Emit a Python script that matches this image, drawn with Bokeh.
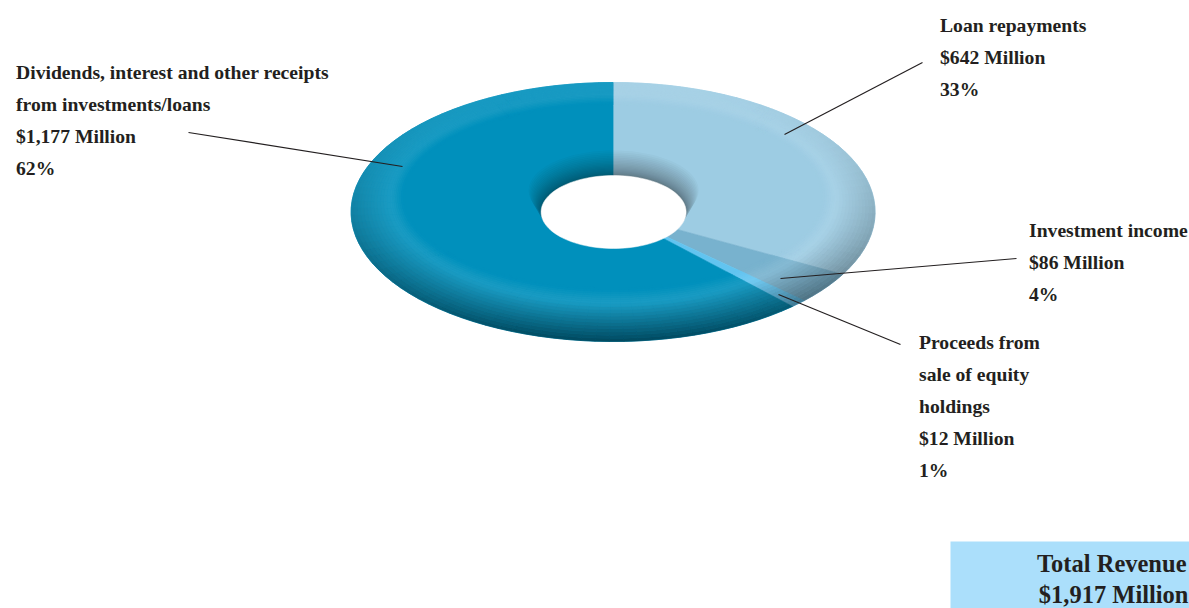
import numpy as np
from bokeh.plotting import figure
from bokeh.models import Range1d
from bokeh.core.properties import value
from bokeh.embed import file_html
from bokeh.resources import INLINE

categories = ["Loan repayments", "Investment income", "Proceeds from sale of equity holdings",
              "Dividends, interest and other receipts from investments/loans"]
millions = [642, 86, 12, 1177]
percents = [33, 4, 1, 62]
slice_colors = [(157, 204, 227), (120, 178, 206), (98, 196, 240), (0, 144, 188)]

W, H = 1189, 608
p = figure(width=W, height=H, output_backend="svg", toolbar_location=None,
           x_range=Range1d(0, W), y_range=Range1d(H, 0),
           min_border=0, min_border_left=0, min_border_right=0, min_border_top=0, min_border_bottom=0)
p.axis.visible = False
p.grid.visible = False
p.outline_line_color = None
p.background_fill_color = "white"
p.border_fill_color = "white"

CX, CY, RX, RY = 612.6, 211.5, 262.0, 129.5
HX, HY = 72.5, 36.5


def hexc(c):
    return "#%02x%02x%02x" % tuple(int(round(min(255, max(0, v)))) for v in c)


def ray_hit(theta, ecy, erx, ery):
    """Distance along the pie ray (unit = outer ellipse) that meets an offset ellipse."""
    a, b = RX * np.sin(theta), -RY * np.cos(theta)
    d = CY - ecy
    A = (a / erx) ** 2 + (b / ery) ** 2
    B = 2 * b * d / ery ** 2
    C = (d / ery) ** 2 - 1
    return (-B + np.sqrt(B * B - 4 * A * C)) / (2 * A)


def pt(theta, s):
    return CX + RX * s * np.sin(theta), CY - RY * s * np.cos(theta)


cum = np.concatenate([[0], np.cumsum(percents)]) / sum(percents) * 2 * np.pi
xs, ys, cols = [], [], []
for i, base in enumerate(slice_colors):
    a0, a1 = cum[i], cum[i + 1]
    th = np.linspace(a0, a1, max(3, int((a1 - a0) / 0.02)))
    ox, oy = pt(th, 1.0)
    xs.append(list(ox) + [CX])
    ys.append(list(oy) + [CY])
    cols.append(hexc(base))


def s_at(t, kind, u):
    sr = ray_hit(t, 198.0, 223.0, 105.0)
    sf = ray_hit(t, 196.0, 208.0, 91.0)
    return 1 + (sr - 1) * u if kind == "o" else sr + (sf - sr) * u


for i, base in enumerate(slice_colors):
    a0, a1 = cum[i], cum[i + 1]
    base = np.array(base, float)
    ring = base + (255 - base) * 0.10
    edges = np.linspace(a0, a1, max(2, int(round((a1 - a0) / 0.055))) + 1)
    for t0, t1 in zip(edges[:-1], edges[1:]):
        tm = (t0 + t1) / 2
        dark = ((1 - np.cos(tm)) / 2) ** 1.6
        edge = ring + (base * 0.50 - ring) * dark
        n_out, n_in = 12, 8
        stops = [("o", k / n_out, (k + 1) / n_out) for k in range(n_out)]
        stops += [("i", k / n_in, (k + 1) / n_in) for k in range(n_in)]
        for kind, u0, u1 in stops:
            um = (u0 + u1) / 2
            if kind == "o":
                c = edge + (ring - edge) * um
            else:
                c = ring + (base - ring) * (um * um * (3 - 2 * um))
            ax, ay = pt(t0, s_at(t0, kind, u0))
            bx, by = pt(t1, s_at(t1, kind, u0))
            cx_, cy_ = pt(t1, s_at(t1, kind, u1))
            dx, dy = pt(t0, s_at(t0, kind, u1))
            xs.append([ax, bx, cx_, dx])
            ys.append([ay, by, cy_, dy])
            cols.append(hexc(c))

p.patches(xs, ys, fill_color=cols, line_color=cols, line_width=0.6)

# soft shadow above the hole
tt = np.linspace(0, 2 * np.pi, 121)
N = 24
for k in range(N):
    u = 1 - (1 - k / (N - 1)) ** 1.8
    rx = 85 + (HX - 85) * u
    ry = 40 + (HY - 40) * u
    cy = 190 + (CY - 190) * u
    p.patch(CX + 0.5 + rx * np.cos(tt), cy + ry * np.sin(tt), fill_color="#202020",
            fill_alpha=0.027, line_color=None)

# hole
p.patch(CX + 0.5 + HX * np.cos(tt), CY + HY * np.sin(tt), fill_color="white", line_color="white", line_width=0.5)

# leader lines
leader_x = [[188, 402], [922, 784], [1016, 780], [900, 778]]
leader_y = [[132, 166], [62, 134], [258, 278], [344, 294]]
p.multi_line(leader_x, leader_y, line_color="#231f20", line_width=1.2)

label_blocks = [
    (15.5, 71.5, ["Dividends, interest and other receipts", "from investments/loans", "$1,177 Million", "62%"]),
    (939.5, 24.5, ["Loan repayments", "$642 Million", "33%"]),
    (1028.5, 229.5, ["Investment income", "$86 Million", "4%"]),
    (918.5, 341.5, ["Proceeds from", "sale of equity", "holdings", "$12 Million", "1%"]),
]
tx, ty, tl = [], [], []
for x0, y0, lines in label_blocks:
    for j, line in enumerate(lines):
        tx.append(x0)
        ty.append(y0 + 32 * j)
        tl.append(line)
p.text(tx, ty, text=tl, text_font=value("Liberation Serif"), text_font_style="bold",
       text_font_size="19.65px", text_color="#231f20", text_baseline="alphabetic", text_align="left")

# total box
p.quad(left=[950], right=[1195], top=[541], bottom=[615], fill_color="#abdffb", line_color=None)
p.text([1186, 1188], [563, 593.5], text=["Total Revenue", "$1,917 Million"], text_font=value("Liberation Serif"),
       text_font_style="bold", text_font_size="24.5px", text_color="#231f20",
       text_baseline="alphabetic", text_align="right")

open("out.html", "w").write(file_html(p, INLINE))
